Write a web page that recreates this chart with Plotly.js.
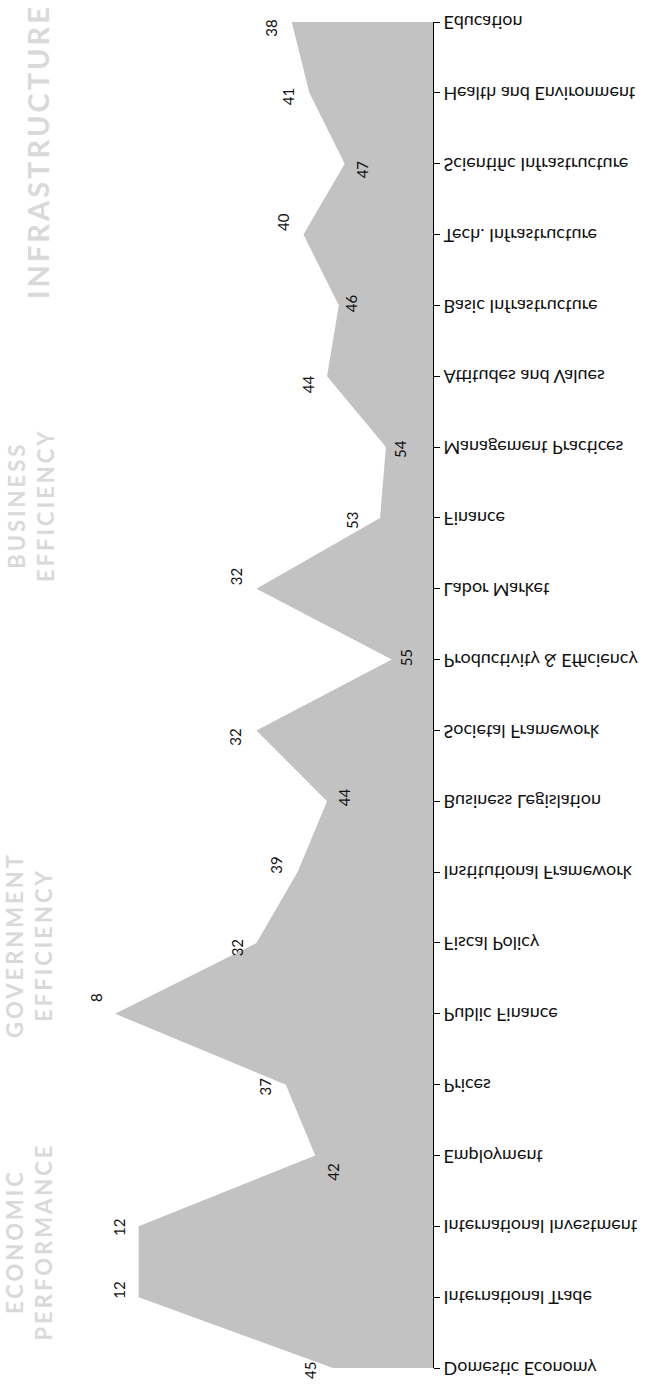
<!DOCTYPE html>
<html><head><meta charset="utf-8">
<script src="https://cdn.plot.ly/plotly-3.0.1.min.js"></script>
<style>
html,body{margin:0;padding:0;background:#fff;overflow:hidden;width:651px;height:1387px;}
#chart{position:absolute;left:0;top:0;width:1387px;height:651px;transform-origin:0 0;transform:matrix(0,-1,-1,0,651,1387);}
#overlay{position:absolute;left:0;top:0;width:651px;height:1387px;pointer-events:none;}
#overlay .annotation.group .annotation-text{letter-spacing:3px;}
</style></head><body>
<div id="chart"></div><div id="overlay"></div>
<script>
// ---- data ----
const categories = ["Domestic Economy","International Trade","International Investment","Employment","Prices",
  "Public Finance","Fiscal Policy","Institutional Framework","Business Legislation","Societal Framework",
  "Productivity & Efficiency","Labor Market","Finance","Management Practices","Attitudes and Values",
  "Basic Infrastructure","Tech. Infrastructure","Scientific Infrastructure","Health and Environment","Education"];
const ranks = [45,12,12,42,37, 8,32,39,44,32, 55,32,53,54,44, 46,40,47,41,38];
const rankMax = 62;
const groupTitles = ["ECONOMIC<br>PERFORMANCE","GOVERNMENT<br>EFFICIENCY","BUSINESS<br>EFFICIENCY","INFRASTRUCTURE"];

// ---- label placement (layout only, picture pixels: [dx, dy]) ----
const labelOffsets = [[-23,2],[-19,-7],[-19,1],[18,17],[-21,2],[-19,-16],[-19,5],[-21,-7],[17,-4],[-21,7],
  [14,-2],[-21,-12],[-28,3],[14,2],[-19,8],[13,-2],[-21,-13],[17,6],[-22,4],[-21,6]];
const groupTitlePos = [[29,1242],[29,945],[31,505],[37,152]];
const groupTitleSize = [22,22,22,29];

const FONT = "Lato, 'Open Sans', sans-serif";
const last = categories.length - 1;
const W = 651, H = 1387;
const M = {l: 68, r: 218, t: 22, b: 19}; // picture-frame plot margins

// ---- area + category axis (drawn in a transposed frame so the tick labels come out flipped) ----
const traces = [
  {x: categories.concat([categories[last], categories[0]]),
   y: ranks.concat([rankMax, rankMax]),
   type: 'scatter', mode: 'lines', line: {width: 0, color: '#c2c2c2'},
   fill: 'toself', fillcolor: '#c2c2c2', showlegend: false, hoverinfo: 'skip'}
];
const layout = {
  width: H, height: W,
  margin: {l: M.b, r: M.t, t: M.r, b: M.l},
  paper_bgcolor: 'rgba(0,0,0,0)', plot_bgcolor: 'rgba(0,0,0,0)',
  showlegend: false,
  xaxis: {type: 'category', side: 'top', range: [0, last], showline: true, linecolor: '#000', linewidth: 1,
    ticks: 'outside', ticklen: 6, tickcolor: '#000', tickangle: -90, showgrid: false, zeroline: false, automargin: false,
    tickfont: {family: FONT, size: 18, color: '#111'}},
  yaxis: {range: [0, rankMax], visible: false, showgrid: false, zeroline: false, fixedrange: true}
};
Plotly.newPlot('chart', traces, layout, {staticPlot: true, displayModeBar: false});

// ---- value labels and group titles (picture frame, same scales) ----
const valueAnn = ranks.map((v, i) => ({
  x: v, y: categories[i], xref: 'x', yref: 'y', text: String(v), showarrow: false,
  xshift: labelOffsets[i][0], yshift: -labelOffsets[i][1], textangle: -90,
  xanchor: 'center', yanchor: 'middle',
  font: {family: FONT, size: 15, color: '#111'}
}));
const pw = W - M.l - M.r, ph = H - M.t - M.b;
const titleAnn = groupTitles.map((t, i) => ({
  x: (groupTitlePos[i][0] - M.l) / pw, y: 1 - (groupTitlePos[i][1] - M.t) / ph, xref: 'paper', yref: 'paper',
  xanchor: 'center', yanchor: 'middle', captureevents: false,
  text: t, showarrow: false, textangle: -90, align: 'center',
  font: {family: FONT, size: groupTitleSize[i], color: '#d9d9d9', weight: 'bold'}
}));
Plotly.newPlot('overlay', [{x: [], y: [], type: 'scatter', showlegend: false}], {
  width: W, height: H, margin: M,
  paper_bgcolor: 'rgba(0,0,0,0)', plot_bgcolor: 'rgba(0,0,0,0)', showlegend: false,
  xaxis: {range: [0, rankMax], visible: false, fixedrange: true},
  yaxis: {type: 'category', categoryarray: categories, categoryorder: 'array', range: [0, last], visible: false, fixedrange: true},
  annotations: valueAnn.concat(titleAnn)
}, {staticPlot: true, displayModeBar: false}).then(() => {
  const nodes = document.querySelectorAll('#overlay .annotation');
  nodes.forEach((n, k) => { if (k >= valueAnn.length) n.classList.add('group'); });
});
</script></body></html>
